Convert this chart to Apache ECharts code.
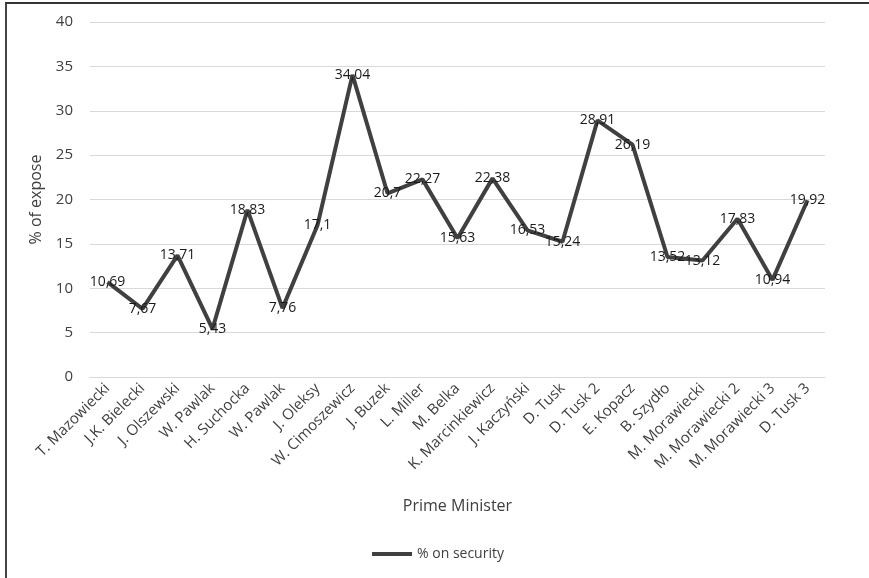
<!DOCTYPE html>
<html lang="en">
<head>
<meta charset="UTF-8" />
<title>% on security</title>
</head>
<body>
<style>
* {
  margin: 0;
  padding: 0;
}
body {
  background: #fff;
}
#chartEl {
  position: absolute;
  left: 5px;
  top: 2px;
  width: 864px;
  height: 576px;
  border-top: 2px solid #333;
  border-left: 2px solid #444;
  box-sizing: border-box;
}
</style>
<div id="chartEl"></div>
<script src="https://cdn.jsdelivr.net/npm/echarts@6/dist/echarts.min.js"></script>
<script>
// Prime ministers (x axis)
const ministers = [
  'T. Mazowiecki', 'J.K. Bielecki', 'J. Olszewski', 'W. Pawlak', 'H. Suchocka',
  'W. Pawlak', 'J. Oleksy', 'W. Cimoszewicz', 'J. Buzek', 'L. Miller',
  'M. Belka', 'K. Marcinkiewicz', 'J. Kaczyński', 'D. Tusk', 'D. Tusk 2',
  'E. Kopacz', 'B. Szydło', 'M. Morawiecki', 'M. Morawiecki 2', 'M. Morawiecki 3',
  'D. Tusk 3'
];
// % on security
const securityShare = [
  10.69, 7.67, 13.71, 5.43, 18.83, 7.76, 17.1, 34.04, 20.7, 22.27,
  15.63, 22.38, 16.53, 15.24, 28.91, 26.19, 13.52, 13.12, 17.83, 10.94,
  19.92
];
const yTicks = { min: 0, max: 40, interval: 5 };

const fontFamily = '"Open Sans", "DejaVu Sans", sans-serif';
const chart = echarts.init(document.getElementById('chartEl'));
chart.setOption({
  textStyle: { fontFamily: fontFamily },
  animation: false,
  grid: {
    left: 83,
    right: 44,
    top: 18,
    bottom: 201,
  },
  legend: {
    bottom: 12,
    left: 'center',
    icon: 'rect',
    itemWidth: 40,
    itemHeight: 4,
    itemGap: 8,
    selectedMode: false,
    itemStyle: { color: '#404040', opacity: 1 },
    textStyle: { color: '#404040', fontSize: 14, fontFamily: fontFamily },
    data: ['% on security'],
  },
  xAxis: {
    type: 'category',
    data: ministers,
    name: 'Prime Minister',
    nameLocation: 'middle',
    nameGap: 121,
    nameTextStyle: { color: '#404040', fontSize: 16, fontFamily: fontFamily },
    axisTick: { show: false },
    axisLine: { lineStyle: { color: '#d9d9d9', width: 1 } },
    axisLabel: {
      rotate: 45,
      interval: 0,
      color: '#404040',
      fontSize: 15,
      margin: 9,
    },
  },
  yAxis: {
    type: 'value',
    min: yTicks.min,
    max: yTicks.max,
    interval: yTicks.interval,
    name: '% of expose',
    nameLocation: 'middle',
    nameGap: 46,
    nameTextStyle: { color: '#404040', fontSize: 16, fontFamily: fontFamily },
    axisLine: { show: false },
    axisTick: { show: false },
    axisLabel: { color: '#404040', fontSize: 15, margin: 17 },
    splitLine: { lineStyle: { color: '#d9d9d9', width: 1 } },
  },
  series: [
    {
      name: '% on security',
      type: 'line',
      data: securityShare,
      symbol: 'circle',
      symbolSize: 1,
      showSymbol: true,
      lineStyle: { color: '#404040', width: 4 },
      itemStyle: { color: 'rgba(0,0,0,0)' },
      label: {
        show: true,
        position: 'inside',
        color: '#1a1a1a',
        fontSize: 14,
        formatter: function (p) {
          return String(p.value).replace('.', ',');
        },
      },
    },
  ],
});
</script>
</body>
</html>
